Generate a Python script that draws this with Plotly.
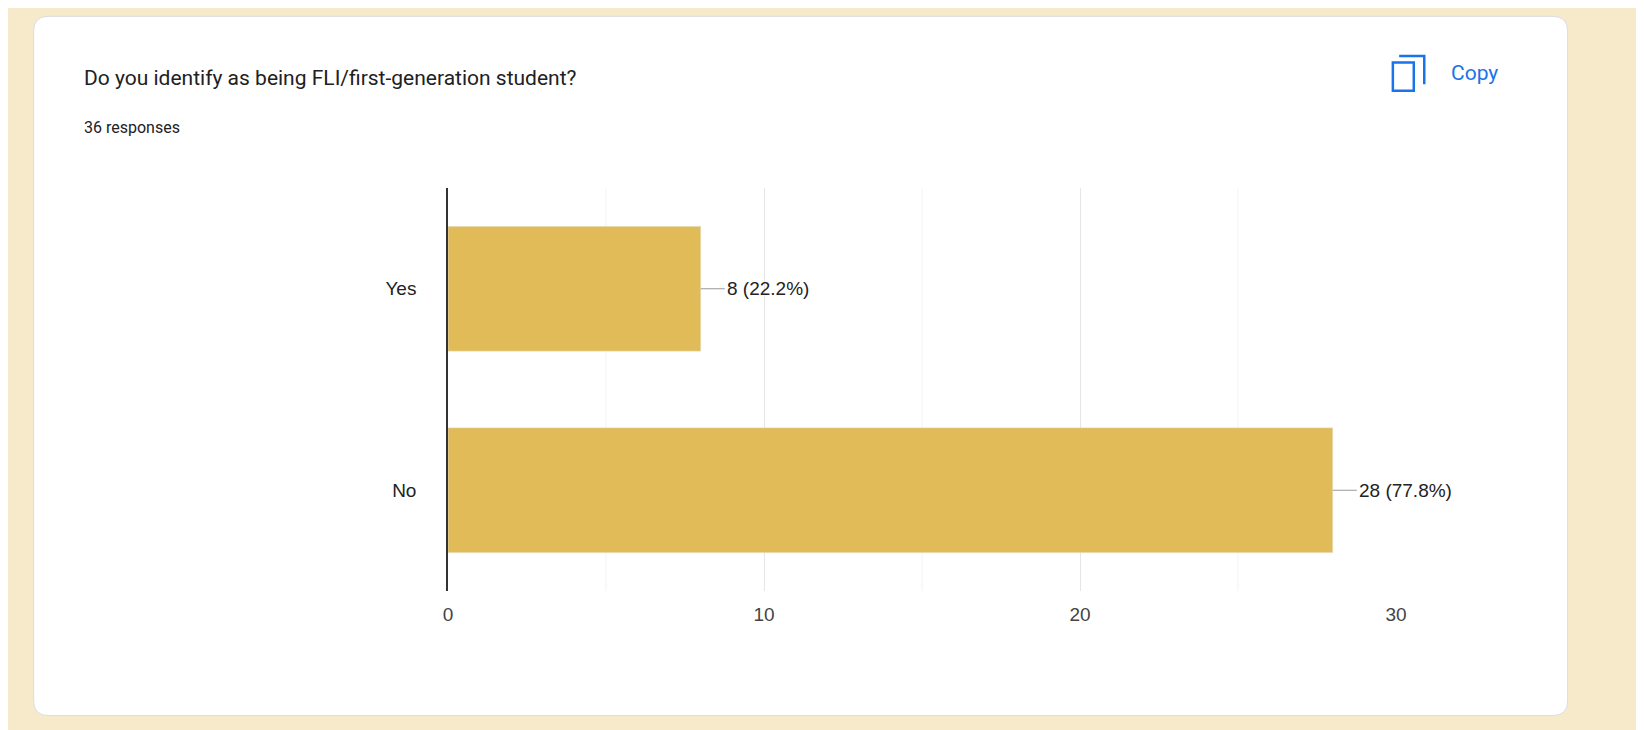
import plotly.graph_objects as go

categories = ["Yes", "No"]
counts = [8, 28]
labels = ["8 (22.2%)", "28 (77.8%)"]
tick_vals = [0, 10, 20, 30]

W, H = 1644, 730
S = 1644 / 1570.0
def c(d): return (d - 8) * S
L, R, T, B = c(428), c(1334), c(180), c(565)
def px(x): return (c(x) - L) / (R - L)
def py(y): return (B - c(y)) / (B - T)

fig = go.Figure(go.Bar(y=categories, x=counts, orientation="h",
                       marker_color="#E0BB58", width=0.62, hoverinfo="skip"))

x0, x1, y0, y1, r = 32, 1498, 16, 684, 14
path = (f"M {px(x0+r)},{py(y0)} L {px(x1-r)},{py(y0)} Q {px(x1)},{py(y0)} {px(x1)},{py(y0+r)} "
        f"L {px(x1)},{py(y1-r)} Q {px(x1)},{py(y1)} {px(x1-r)},{py(y1)} L {px(x0+r)},{py(y1)} "
        f"Q {px(x0)},{py(y1)} {px(x0)},{py(y1-r)} L {px(x0)},{py(y0+r)} Q {px(x0)},{py(y0)} {px(x0+r)},{py(y0)} Z")
shapes = [dict(type="path", path=path, xref="paper", yref="paper", fillcolor="white",
               line=dict(color="#DADCE0", width=1), layer="below")]
shapes.append(dict(type="rect", xref="paper", yref="paper", x0=px(1331), x1=px(1351), y0=py(87), y1=py(60),
                   line=dict(color="#1A73E8", width=2.5)))
shapes.append(dict(type="path", xref="paper", yref="paper",
                   path=f"M {px(1337)},{py(54)} L {px(1361)},{py(54)} L {px(1361)},{py(81)}",
                   line=dict(color="#1A73E8", width=2.5)))
for v in [5, 15, 25]:
    shapes.append(dict(type="line", xref="x", yref="paper", x0=v, x1=v, y0=0, y1=1,
                       line=dict(color="#F3F3F3", width=1), layer="below"))

fs = lambda s: round(s * S)
annotations = [
    dict(text="Do you identify as being FLI/first-generation student?", x=px(78), y=py(75),
         xref="paper", yref="paper", xanchor="left", yanchor="middle", showarrow=False,
         font=dict(family="Roboto", size=fs(20), color="#202124")),
    dict(text="36 responses", x=px(78), y=py(122), xref="paper", yref="paper",
         xanchor="left", yanchor="middle", showarrow=False,
         font=dict(family="Roboto", size=fs(15), color="#202124")),
    dict(text="Copy", x=px(1385), y=py(70), xref="paper", yref="paper",
         xanchor="left", yanchor="middle", showarrow=False,
         font=dict(family="Roboto", size=fs(20), color="#1A73E8")),
]
for cat, v, t in zip(categories, counts, labels):
    annotations.append(dict(x=v, y=cat, text=t, xref="x", yref="y", showarrow=True, arrowhead=0,
                            arrowwidth=1, arrowcolor="#999999", ax=24, ay=0, xanchor="left",
                            font=dict(family="Arial", size=fs(18), color="#222222")))

fig.update_layout(
    width=W, height=H, paper_bgcolor="#F7EACB", plot_bgcolor="white",
    margin=dict(l=L, r=W - R, t=T, b=H - B), showlegend=False,
    shapes=shapes, annotations=annotations,
    xaxis=dict(range=[0, 30], tickvals=tick_vals, showgrid=True, gridcolor="#E6E6E6",
               zeroline=False, showline=False, ticks="", ticklabelstandoff=10,
               tickfont=dict(family="Arial", size=fs(18), color="#444444")),
    yaxis=dict(autorange="reversed", showline=True, linecolor="#333333", linewidth=1.5,
               ticks="", ticklabelstandoff=26, tickfont=dict(family="Arial", size=fs(18), color="#222222")),
)
fig.write_html("out.html")
